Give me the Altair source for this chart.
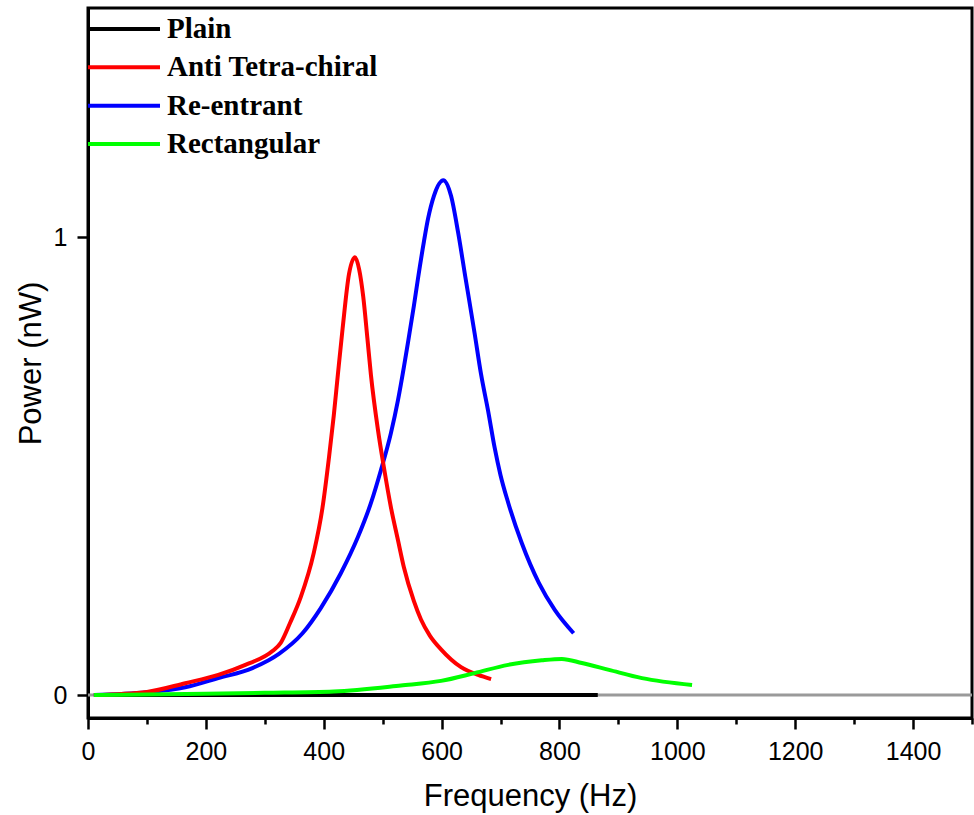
import altair as alt
import pandas as pd

series_names = ["Plain", "Anti Tetra-chiral", "Re-entrant", "Rectangular"]
series_colors = ["#000000", "#ff0000", "#0000ff", "#00ff00"]

plain_freq = [10, 865]
plain_power = [0.0, 0.0]

anti_freq = [10, 100, 165, 221, 267, 313, 327, 343, 361, 383, 398, 409, 417, 424, 432, 443,
             453, 460, 467, 474, 480, 492, 502, 514, 526, 536, 553, 565, 580, 599, 633, 662, 684]
anti_power = [0.0, 0.007, 0.026, 0.044, 0.066, 0.096, 0.114, 0.158, 0.214, 0.310, 0.410,
              0.520, 0.610, 0.700, 0.800, 0.920, 0.956, 0.930, 0.870, 0.780, 0.700, 0.579,
              0.498, 0.410, 0.338, 0.279, 0.205, 0.165, 0.130, 0.100, 0.061, 0.044, 0.035]

reent_freq = [10, 100, 165, 221, 279, 324, 364, 395, 429, 458, 480, 497, 514, 526, 536, 543,
              553, 560, 570, 577, 587, 603, 616, 628, 640, 656, 667, 679, 690, 700, 713, 736,
              765, 792, 824]
reent_power = [0.0, 0.006, 0.017, 0.037, 0.059, 0.090, 0.135, 0.190, 0.266, 0.345, 0.419,
               0.491, 0.572, 0.644, 0.716, 0.770, 0.850, 0.910, 0.990, 1.040, 1.090, 1.124,
               1.090, 1.010, 0.915, 0.790, 0.700, 0.620, 0.540, 0.480, 0.420, 0.332, 0.245,
               0.186, 0.135]

rect_freq = [10, 200, 300, 417, 531, 599, 656, 713, 770, 804, 838, 884, 940, 1025]
rect_power = [0.0, 0.003, 0.005, 0.008, 0.021, 0.031, 0.048, 0.066, 0.076, 0.079, 0.070,
              0.055, 0.037, 0.022]

x_ticks = list(range(0, 1501, 100))
y_ticks = [0, 0.5, 1]


def frame(name, f, p):
    return pd.DataFrame({"freq": f, "power": p, "series": name})


x_scale = alt.Scale(domain=[0, 1500], nice=False, zero=False)
y_scale = alt.Scale(domain=[-0.05, 1.5], nice=False, zero=False)
color_scale = alt.Scale(domain=series_names, range=series_colors)

x_axis = alt.Axis(
    values=x_ticks,
    format="d",
    labelExpr="datum.value % 200 === 0 ? datum.label : ''",
    tickSize={"condition": {"test": "datum.value % 200 === 0", "value": 11}, "value": 6},
    title="Frequency (Hz)",
    labelFlush=False,
    labelPadding=10,
    titlePadding=17,
)
y_axis = alt.Axis(
    values=y_ticks,
    format="d",
    labelExpr="datum.value === 0.5 ? '' : datum.label",
    tickSize={"condition": {"test": "datum.value !== 0.5", "value": 11}, "value": 6},
    title="Power (nW)",
    labelPadding=10,
    titlePadding=6,
)


def series_layer(name, f, p):
    return alt.Chart(frame(name, f, p)).mark_line(strokeWidth=4, interpolate="monotone").encode(
        x=alt.X("freq:Q", scale=x_scale, axis=x_axis),
        y=alt.Y("power:Q", scale=y_scale, axis=y_axis),
        color=alt.Color("series:N", scale=color_scale, legend=None),
    )


baseline = alt.Chart(pd.DataFrame({"series": ["Plain"]})).mark_rule(
    strokeWidth=3, color="#9a9a9a"
).encode(
    x=alt.value(0), x2=alt.value(884), y=alt.datum(0, scale=y_scale)
)

main = alt.layer(
    baseline,
    series_layer("Plain", plain_freq, plain_power),
    series_layer("Re-entrant", reent_freq, reent_power),
    series_layer("Anti Tetra-chiral", anti_freq, anti_power),
    series_layer("Rectangular", rect_freq, rect_power),
)

legend_df = pd.DataFrame({"series": series_names})
leg_y = alt.Y("series:N", sort=series_names,
              scale=alt.Scale(type="point", range=[21, 136], padding=0), axis=None)
leg_rules = alt.Chart(legend_df).mark_rule(strokeWidth=4).encode(
    x=alt.value(0), x2=alt.value(72), y=leg_y,
    color=alt.Color("series:N", scale=color_scale, legend=None),
)
leg_text = alt.Chart(legend_df).mark_text(
    align="left", baseline="middle", font="Liberation Serif", fontWeight="bold",
    fontSize=29, color="black"
).encode(x=alt.value(79), y=leg_y, text="series:N")
legend = alt.layer(leg_rules, leg_text)

chart = alt.layer(main, legend).resolve_scale(y="independent").properties(
    width=884, height=710,
    autosize=alt.AutoSizeParams(type="none"),
    padding={"left": 88, "top": 8, "right": 2, "bottom": 97},
    background="white",
).configure_view(stroke="black", strokeWidth=3).configure_axis(
    domainColor="black", domainWidth=3, tickColor="black", tickWidth=2.5,
    labelFont="Liberation Sans", labelFontSize=25, labelColor="black",
    titleFont="Liberation Sans", titleFontSize=31, titleFontWeight="normal",
    titleColor="black", grid=False,
)

chart.save("out.html", embed_options={"renderer": "svg", "actions": False})
